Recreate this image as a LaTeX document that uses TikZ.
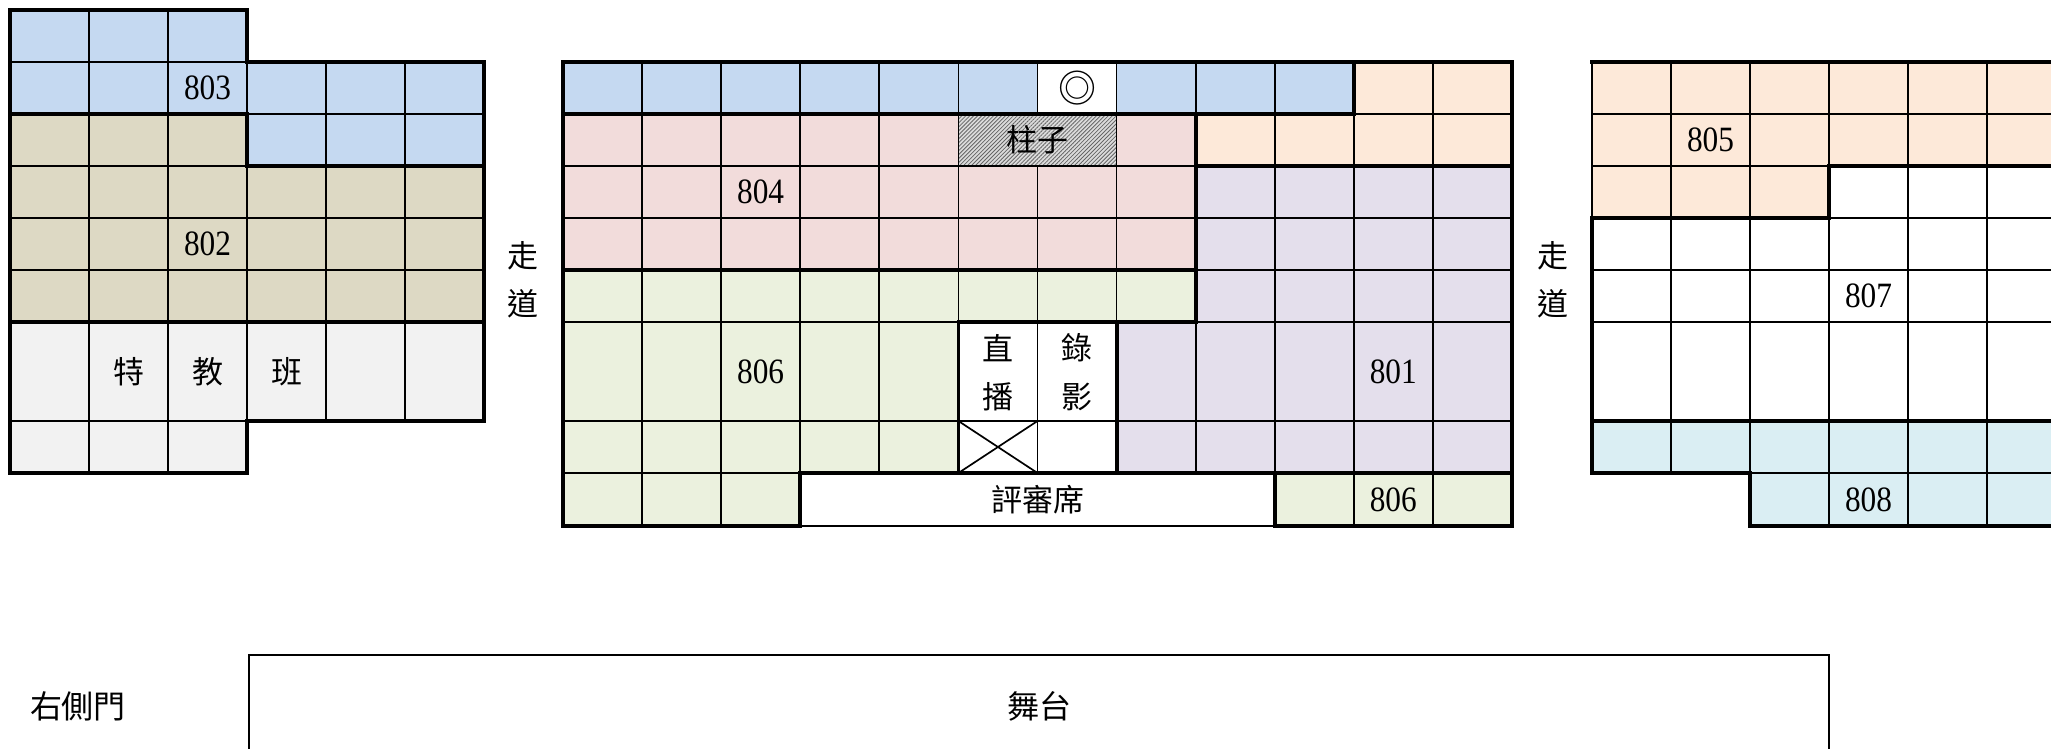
\documentclass[tikz,border=0pt]{standalone}
\usepackage{fontspec}
\setmainfont{Liberation Serif}
\newfontfamily\numfont{Liberation Serif}[FakeStretch=0.88]
\newfontfamily\cjk{Noto Sans CJK TC}
\usetikzlibrary{patterns.meta}
\definecolor{cblue}{HTML}{C5D9F1}
\definecolor{ctan}{HTML}{DDD9C4}
\definecolor{cgray}{HTML}{F2F2F2}
\definecolor{cpink}{HTML}{F2DCDB}
\definecolor{cgreen}{HTML}{EBF1DE}
\definecolor{cpeach}{HTML}{FDE9D9}
\definecolor{clav}{HTML}{E4DFEC}
\definecolor{caqua}{HTML}{DAEEF3}
\tikzset{
  thinl/.style={line width=0.85pt, draw=black},
  thk/.style={line width=1.9pt, draw=black, line join=miter, line cap=rect},
  num/.style={font=\numfont\fontsize{17.8pt}{20pt}\selectfont, inner sep=0pt},
  cjkl/.style={font=\cjk\fontsize{15.5pt}{18pt}\selectfont, inner sep=0pt},
}
% x0, width, n, ytop, ybot, colour
\newcommand\cellrow[6]{%
  \foreach \k in {1,...,#3}{%
    \filldraw[fill=#6, thinl] ({#1+(\k-1)*#2},#4) rectangle ({#1+\k*#2},#5);
  }}
\def\mw{79.08}
\begin{document}
\begin{tikzpicture}[x=0.5pt, y=-0.5pt]
\useasboundingbox (0,0) rectangle (2051,749);
\clip (0,0) rectangle (2051,749);
\fill[white] (0,0) rectangle (2051,749);

% ---------------- left block ----------------
\cellrow{10}{79}{3}{10}{62}{cblue}
\cellrow{10}{79}{6}{62}{114}{cblue}
\cellrow{10}{79}{3}{114}{166}{ctan}
\cellrow{247}{79}{3}{114}{166}{cblue}
\cellrow{10}{79}{6}{166}{218}{ctan}
\cellrow{10}{79}{6}{218}{270}{ctan}
\cellrow{10}{79}{6}{270}{322}{ctan}
\cellrow{10}{79}{6}{322}{421}{cgray}
\cellrow{10}{79}{3}{421}{473}{cgray}
\draw[thk] (10,10) -- (247,10) -- (247,62) -- (484,62) -- (484,166) -- (247,166) -- (247,114) -- (10,114) -- cycle;
\draw[thk] (10,114) -- (247,114) -- (247,166) -- (484,166) -- (484,322) -- (10,322) -- cycle;
\draw[thk] (10,322) -- (484,322) -- (484,421) -- (247,421) -- (247,473) -- (10,473) -- cycle;

% ---------------- middle block ----------------
\cellrow{563}{\mw}{6}{62}{114}{cblue}
\cellrow{1037.5}{\mw}{1}{62}{114}{white}
\cellrow{1116.6}{\mw}{3}{62}{114}{cblue}
\cellrow{1353.8}{\mw}{2}{62}{114}{cpeach}
\cellrow{563}{\mw}{5}{114}{166}{cpink}
\filldraw[fill=gray!28, thinl] (958.4,114) rectangle (1116.6,166);
\fill[pattern={Lines[angle=45,distance=1.4pt,line width=0.4pt]}, pattern color=black!60] (958.4,114) rectangle (1116.6,166);
\draw[thinl] (958.4,114) rectangle (1116.6,166);
\cellrow{1116.6}{\mw}{1}{114}{166}{cpink}
\cellrow{1195.6}{\mw}{4}{114}{166}{cpeach}
\cellrow{563}{\mw}{8}{166}{218}{cpink}
\cellrow{1195.6}{\mw}{4}{166}{218}{clav}
\cellrow{563}{\mw}{8}{218}{270}{cpink}
\cellrow{1195.6}{\mw}{4}{218}{270}{clav}
\cellrow{563}{\mw}{8}{270}{322}{cgreen}
\cellrow{1195.6}{\mw}{4}{270}{322}{clav}
\cellrow{563}{\mw}{5}{322}{421}{cgreen}
\cellrow{958.4}{\mw}{2}{322}{421}{white}
\cellrow{1116.6}{\mw}{5}{322}{421}{clav}
\cellrow{563}{\mw}{5}{421}{473}{cgreen}
\cellrow{958.4}{\mw}{2}{421}{473}{white}
\cellrow{1116.6}{\mw}{5}{421}{473}{clav}
\cellrow{563}{\mw}{3}{473}{526}{cgreen}
\filldraw[fill=white, thinl] (800.2,473) rectangle (1274.7,526);
\cellrow{1274.7}{\mw}{3}{473}{526}{cgreen}
\draw[thinl] (958.4,421) -- (1037.5,473) (958.4,473) -- (1037.5,421);
\draw[thk] (800.2,526) -- (563,526) -- (563,62) -- (1512,62) -- (1512,526) -- (1274.7,526);
\draw[thk] (563,114) -- (1353.8,114) -- (1353.8,62);
\draw[thk] (1195.6,114) -- (1195.6,322) -- (1116.6,322) -- (1116.6,473) -- (1512,473);
\draw[thk] (1195.6,166) -- (1512,166);
\draw[thk] (563,270) -- (1195.6,270);
\draw[thk] (1116.6,322) -- (958.4,322) -- (958.4,473);
\draw[thk] (800.2,526) -- (800.2,473) -- (1274.7,473) -- (1274.7,526);

% ---------------- right block ----------------
\cellrow{1592}{79}{6}{62}{114}{cpeach}
\cellrow{1592}{79}{6}{114}{166}{cpeach}
\cellrow{1592}{79}{3}{166}{218}{cpeach}
\cellrow{1829}{79}{3}{166}{218}{white}
\cellrow{1592}{79}{6}{218}{270}{white}
\cellrow{1592}{79}{6}{270}{322}{white}
\cellrow{1592}{79}{6}{322}{421}{white}
\cellrow{1592}{79}{6}{421}{473}{caqua}
\cellrow{1750}{79}{4}{473}{526}{caqua}
\draw[thk] (1592,62) -- (2066,62);
\draw[thk] (2066,166) -- (1829,166) -- (1829,218) -- (1592,218) -- (1592,473) -- (1750,473) -- (1750,526) -- (2066,526);
\draw[thk] (1592,421) -- (2066,421);

% ---------------- stage ----------------
\draw[line width=1pt] (249,770) -- (249,655) -- (1829,655) -- (1829,770);

% ---------------- labels ----------------
\node[num] (n803) at (207.5,88) {803};
\node[num] (n802) at (207.5,244) {802};
\node[cjkl] (te) at (128.5,371.5) {特};
\node[cjkl] (jiao) at (207.5,371.5) {教};
\node[cjkl] (ban) at (286.5,371.5) {班};
\node[num] (n804) at (760.6,192) {804};
\node[num] (n806a) at (760.6,371.5) {806};
\node[num] (n801) at (1393.3,371.5) {801};
\node[num] (n806b) at (1393.3,499.5) {806};
\node[num] (n805) at (1710.5,140) {805};
\node[num] (n807) at (1868.5,296) {807};
\node[num] (n808) at (1868.5,499.5) {808};
\node[cjkl, font=\cjk\fontsize{19pt}{20pt}\selectfont] (ring) at (1077,88) {◎};
\node[cjkl] (pillar) at (1037.5,140) {柱子};
\node[cjkl] (zhi) at (998,348) {直};
\node[cjkl] (bo) at (998,397) {播};
\node[cjkl] (lu) at (1077,348) {錄};
\node[cjkl] (ying) at (1077,397) {影};
\node[cjkl] (judge) at (1037.5,499.5) {評審席};
\node[cjkl] (zouA) at (523,256) {走};
\node[cjkl] (daoA) at (523,304) {道};
\node[cjkl] (zouB) at (1553,256) {走};
\node[cjkl] (daoB) at (1553,304) {道};
\node[cjkl, font=\cjk\fontsize{16pt}{18pt}\selectfont] (door) at (78,706) {右側門};
\node[cjkl, font=\cjk\fontsize{16pt}{18pt}\selectfont] (stage) at (1039,706) {舞台};
\end{tikzpicture}
\end{document}
